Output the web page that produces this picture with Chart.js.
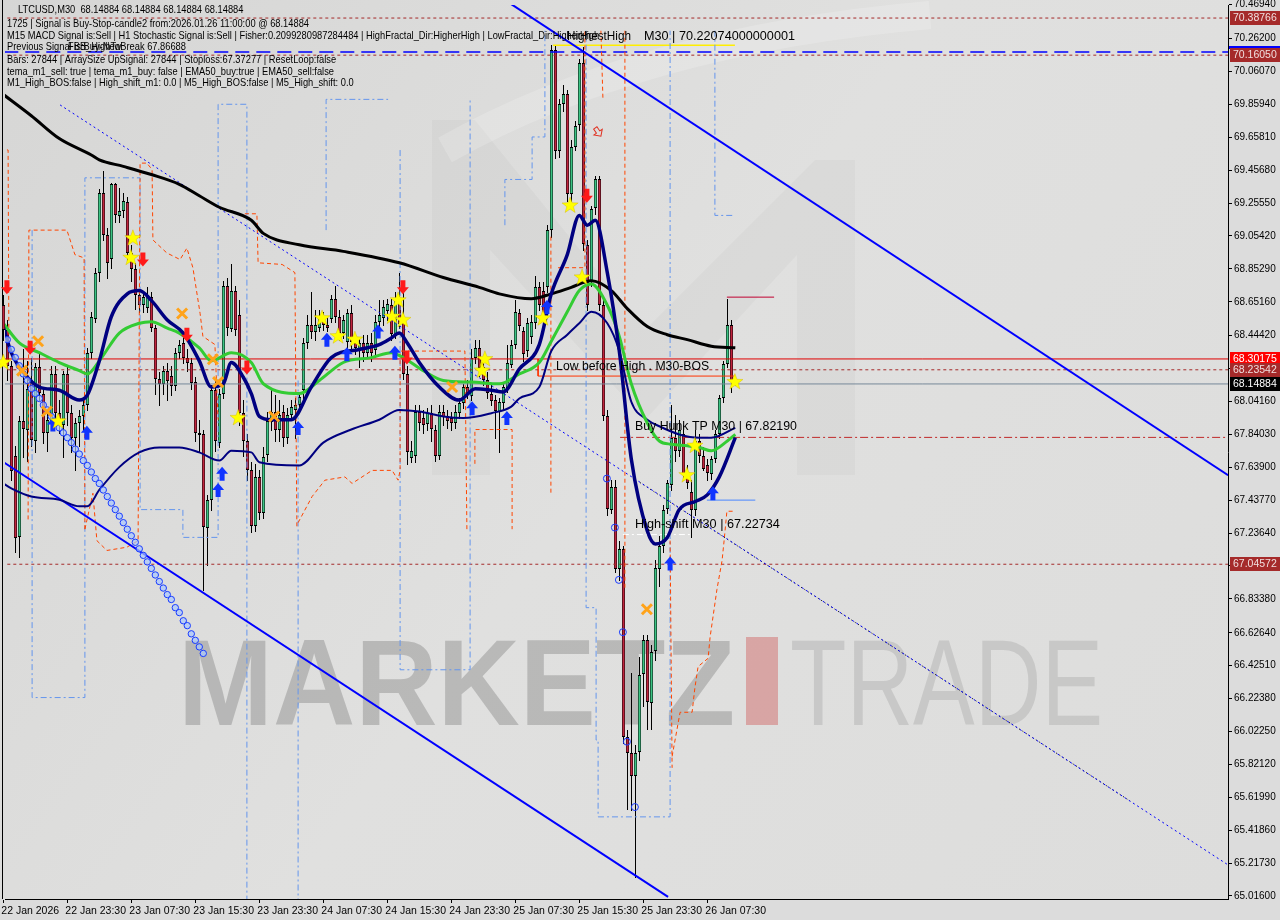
<!DOCTYPE html>
<html>
<head>
<meta charset="utf-8">
<title>LTCUSD,M30</title>
<script src="https://cdn.jsdelivr.net/npm/chart.js@4.4.1/dist/chart.umd.min.js"></script>
<style>
  html, body { margin: 0; padding: 0; background: #dcdcdc; }
  #box { position: relative; width: 1280px; height: 920px; }
</style>
</head>
<body>
<div id="box"><canvas id="chart" width="1280" height="920"></canvas></div>
<script>
// ---- candles, M30 bars from 22 Jan 15:30 (bar 0) to 26 Jan 11:00 (bar 183)
const opens = [
  68.63,68.48,68.26,67.71,67.21,67.92,67.87,68.17,67.80,68.25,
  68.09,67.85,67.91,68.21,67.97,67.90,68.21,67.97,67.82,67.91,
  67.95,68.02,68.34,68.55,68.83,69.32,69.06,68.91,69.37,69.18,
  69.21,69.26,68.95,68.85,68.69,68.63,68.61,68.68,68.49,68.18,
  68.15,68.23,68.20,68.14,68.34,68.40,68.31,68.28,68.16,67.85,
  67.84,67.27,67.44,68.11,67.79,68.09,68.75,68.49,68.72,68.57,
  67.97,67.80,67.62,67.28,67.58,67.36,67.71,67.92,67.98,67.87,
  67.98,67.82,67.96,67.99,68.02,68.11,68.40,68.51,68.47,68.49,
  68.55,68.51,68.55,68.67,68.56,68.46,68.40,68.58,68.40,68.36,
  68.40,68.34,68.40,68.36,68.53,68.55,68.60,68.63,68.45,68.67,
  68.52,68.21,67.70,67.71,67.98,67.94,67.90,67.97,67.87,67.71,
  67.98,67.95,67.94,67.91,67.97,68.03,68.13,68.08,68.31,68.37,
  68.25,68.17,68.09,68.05,67.98,68.03,68.13,68.27,68.39,68.58,
  68.47,68.35,68.44,68.52,68.74,68.72,68.74,69.09,70.19,69.57,
  69.86,69.92,69.31,69.60,69.73,70.11,69.00,68.78,69.22,69.40,
  68.63,67.95,67.38,67.52,67.02,67.14,65.99,65.89,65.75,65.90,
  66.37,66.58,66.20,66.51,67.02,67.16,67.38,67.53,67.82,67.74,
  67.84,67.59,67.49,67.38,67.80,67.71,67.65,67.60,67.69,67.84,
  68.06,68.27,68.51,68.16
];
const highs = [
  68.69,68.54,68.29,67.77,67.95,68.36,68.29,68.31,68.28,68.33,
  68.12,67.99,68.26,68.26,68.05,68.23,68.25,68.02,67.94,67.99,
  68.05,68.37,68.59,68.86,69.34,69.45,69.10,69.38,69.38,69.35,
  69.32,69.29,69.00,68.89,68.72,68.72,68.74,68.71,68.51,68.22,
  68.26,68.28,68.26,68.37,68.42,68.45,68.36,68.31,68.19,67.93,
  67.87,67.47,68.14,68.17,68.12,68.78,68.80,68.88,68.75,68.66,
  68.05,67.84,67.67,67.66,67.62,67.76,67.98,68.11,68.08,68.05,
  68.02,68.00,68.05,68.06,68.10,68.43,68.57,68.71,68.60,68.60,
  68.59,68.55,68.69,68.75,68.60,68.57,68.61,68.63,68.45,68.43,
  68.45,68.45,68.46,68.57,68.66,68.66,68.67,68.67,68.71,68.83,
  68.75,68.26,67.80,68.02,68.02,67.99,68.00,68.02,67.90,68.02,
  68.02,67.99,67.98,68.02,68.06,68.15,68.17,68.36,68.42,68.42,
  68.29,68.22,68.14,68.08,68.06,68.15,68.39,68.42,68.66,68.61,
  68.50,68.55,68.57,68.81,68.77,68.77,69.12,70.22,70.22,69.89,
  69.98,69.95,69.64,69.76,70.14,70.21,69.03,69.24,69.42,69.42,
  68.66,67.99,67.56,67.56,67.19,67.16,66.03,66.38,65.94,66.48,
  66.61,66.61,66.55,67.07,67.22,67.41,67.56,68.02,67.96,67.93,
  67.90,67.65,67.56,67.87,67.84,67.76,67.69,67.71,67.87,68.08,
  68.29,68.67,68.54,68.17
];
const lows = [
  68.42,68.17,67.56,67.12,67.09,67.70,67.68,67.77,67.73,68.05,
  67.79,67.74,67.87,67.93,67.85,67.70,67.90,67.73,67.62,67.77,
  67.87,67.99,68.31,68.53,68.78,69.03,68.80,68.86,69.14,69.14,
  69.17,68.91,68.78,68.61,68.59,68.59,68.59,68.47,68.09,68.02,
  68.09,68.05,68.08,68.11,68.31,68.28,68.23,68.12,67.80,67.74,
  66.89,67.04,67.38,67.74,67.76,68.06,68.45,68.47,68.45,67.90,
  67.71,67.56,67.24,67.25,67.32,67.33,67.68,67.87,67.80,67.80,
  67.77,67.79,67.93,67.82,67.99,68.05,68.37,68.43,68.42,68.47,
  68.48,68.47,68.53,68.53,68.42,68.43,68.36,68.37,68.33,68.25,
  68.29,68.31,68.29,68.33,68.49,68.51,68.54,68.42,68.43,68.49,
  68.18,67.66,67.67,67.67,67.87,67.85,67.87,67.80,67.68,67.69,
  67.90,67.88,67.87,67.88,67.94,68.00,68.06,68.05,68.28,68.20,
  68.14,68.06,68.02,67.82,67.73,67.99,68.10,68.25,68.37,68.48,
  68.29,68.32,68.40,68.49,68.60,68.54,68.71,69.05,69.53,69.54,
  69.82,69.27,69.27,69.58,69.70,68.97,68.60,68.75,69.19,68.60,
  67.93,67.35,67.36,67.00,66.95,65.95,65.55,65.54,65.13,65.85,
  66.18,66.04,66.04,66.46,66.91,67.12,67.36,67.50,67.68,67.71,
  67.56,67.51,67.21,67.35,67.67,67.62,67.56,67.57,67.67,67.82,
  68.04,68.25,68.10,68.14
];
const closes = [
  68.48,68.26,67.62,67.21,67.92,67.87,68.12,67.80,68.25,68.09,
  67.85,67.93,68.21,67.97,67.90,68.21,67.97,67.82,67.91,67.95,
  68.02,68.34,68.56,68.83,69.32,69.06,68.89,69.37,69.18,69.21,
  69.27,68.95,68.85,68.69,68.63,68.68,68.69,68.49,68.18,68.15,
  68.23,68.17,68.14,68.34,68.39,68.31,68.28,68.16,67.85,67.84,
  67.27,67.44,68.11,67.80,68.09,68.75,68.49,68.72,68.48,67.97,
  67.80,67.62,67.28,67.58,67.36,67.70,67.92,67.98,67.87,67.96,
  67.82,67.96,68.01,68.02,68.07,68.40,68.51,68.47,68.51,68.55,
  68.51,68.49,68.67,68.56,68.46,68.54,68.58,68.40,68.37,68.40,
  68.34,68.40,68.34,68.53,68.57,68.62,68.64,68.45,68.67,68.52,
  68.21,67.73,67.74,67.98,67.91,67.90,67.97,67.87,67.71,67.98,
  67.95,67.92,67.91,67.98,68.03,68.13,68.08,68.31,68.37,68.25,
  68.17,68.09,68.05,67.98,68.04,68.13,68.28,68.39,68.59,68.50,
  68.33,68.52,68.53,68.74,68.63,68.56,69.09,70.19,69.57,69.86,
  69.92,69.31,69.60,69.73,70.11,69.00,68.63,69.22,69.40,68.63,
  67.95,67.38,67.52,67.02,67.14,65.99,65.89,65.75,65.89,66.37,
  66.58,66.20,66.51,67.02,67.16,67.38,67.54,67.82,67.74,67.87,
  67.59,67.54,67.38,67.80,67.71,67.63,67.60,67.69,67.84,68.06,
  68.27,68.51,68.16,68.14884
];

// ---- axes
const timeTickBars = [0, 16, 32, 48, 64, 80, 96, 112, 128, 144, 160, 176];
const timeTickLabels = ['22 Jan 2026', '22 Jan 23:30', '23 Jan 07:30', '23 Jan 15:30', '23 Jan 23:30',
  '24 Jan 07:30', '24 Jan 15:30', '24 Jan 23:30', '25 Jan 07:30', '25 Jan 15:30', '25 Jan 23:30', '26 Jan 07:30'];
const priceTicks = [70.4694, 70.2620, 70.0607, 69.8594, 69.6581, 69.4568, 69.2555, 69.0542, 68.8529, 68.6516,
  68.4442, 68.2429, 68.0416, 67.8403, 67.6390, 67.4377, 67.2364, 67.0351, 66.8338, 66.6264,
  66.4251, 66.2238, 66.0225, 65.8212, 65.6199, 65.4186, 65.2173, 65.0160];

// ---- indicator lines, read at sample bars
const slowBars = [0, 7, 14, 22, 24, 30, 37, 44, 49, 54, 62, 65, 74, 85, 99, 110, 119, 124, 132, 137, 142, 147, 152, 156, 161, 166, 171, 177, 183];
const slowVals = [69.92, 69.79, 69.65, 69.55, 69.52, 69.48, 69.43, 69.37, 69.30, 69.23, 69.15, 69.07, 69.00, 68.96, 68.89, 68.80, 68.74, 68.70, 68.67, 68.70, 68.74, 68.78, 68.72, 68.61, 68.50, 68.45, 68.42, 68.38, 68.37];
const greenBars = [0, 4, 9, 14, 19, 21, 24, 29, 34, 37, 41, 44, 49, 52, 57, 62, 65, 74, 79, 85, 92, 97, 100, 105, 110, 117, 124, 129, 134, 137, 141, 144, 147, 151, 154, 157, 161, 164, 167, 171, 174, 177, 181, 183];
const greenVals = [68.52, 68.40, 68.34, 68.28, 68.23, 68.21, 68.29, 68.46, 68.52, 68.53, 68.49, 68.46, 68.37, 68.29, 68.34, 68.28, 68.15, 68.09, 68.17, 68.28, 68.31, 68.34, 68.31, 68.23, 68.17, 68.16, 68.15, 68.21, 68.28, 68.41, 68.59, 68.72, 68.76, 68.63, 68.44, 68.15, 67.91, 67.80, 67.78, 67.77, 67.76, 67.74, 67.80, 67.84];
const fastBars = [0, 2, 6, 9, 14, 19, 21, 24, 27, 31, 34, 37, 41, 45, 49, 52, 55, 57, 60, 62, 64, 67, 72, 77, 82, 89, 94, 97, 99, 101, 104, 109, 114, 118, 122, 125, 129, 134, 137, 141, 144, 146, 148, 151, 154, 157, 161, 163, 166, 169, 173, 176, 179, 183];
const fastVals = [68.50, 68.34, 68.19, 68.13, 68.11, 68.05, 68.08, 68.29, 68.56, 68.70, 68.72, 68.66, 68.54, 68.46, 68.29, 68.13, 68.15, 68.28, 68.19, 68.09, 67.95, 67.93, 67.93, 68.13, 68.31, 68.36, 68.39, 68.43, 68.46, 68.40, 68.28, 68.13, 68.05, 68.12, 68.11, 68.10, 68.24, 68.39, 68.70, 68.94, 69.18, 69.12, 69.15, 68.83, 68.35, 67.69, 67.25, 67.17, 67.21, 67.38, 67.43, 67.47, 67.58, 67.82];
const bandBars = [0, 2, 7, 14, 19, 21, 24, 29, 34, 39, 44, 49, 54, 57, 62, 64, 74, 80, 87, 94, 99, 104, 110, 115, 122, 127, 129, 134, 137, 141, 144, 147, 151, 154, 157, 161, 164, 169, 174, 177, 183];
const bandVals = [67.54, 67.51, 67.46, 67.44, 67.40, 67.40, 67.50, 67.64, 67.73, 67.76, 67.76, 67.73, 67.68, 67.74, 67.73, 67.67, 67.65, 67.79, 67.87, 67.93, 67.99, 67.98, 67.95, 67.94, 67.97, 68.01, 68.06, 68.13, 68.35, 68.45, 68.52, 68.59, 68.52, 68.35, 68.04, 67.93, 67.89, 67.84, 67.82, 67.82, 67.88];

// trend lines: [bar, price] end points
const channelTop = [[125.4, 70.498], [306.2, 67.59]];
const channelBottom = [[-0.8, 67.684], [166.2, 65.01]];
const dottedTrend = [[14.2, 69.856], [306.2, 65.206]];
const dottedTrendBlack = [[159.2, 67.545], [281.7, 65.597]];

// orange step lines (dashed)
const orangeSegs = [
  [[-0.8, 69.59], [1.2, 69.58], [1.4, 68.39]],
  [[6.2, 67.32], [6.4, 69.09], [15.9, 69.09], [17.9, 68.94], [20.2, 68.92], [20.4, 67.26]],
  [[20.4, 67.26], [22.4, 67.48], [23.4, 67.19], [25.9, 67.13], [30.9, 67.15], [33.7, 67.19], [34.2, 69.50], [35.9, 69.50], [37.2, 69.46], [37.4, 69.03], [40.9, 68.95], [44.2, 68.91], [45.9, 68.98], [47.4, 68.86], [49.2, 68.58], [49.9, 68.44], [52.9, 68.39], [53.7, 67.93]],
  [[60.4, 69.19], [63.4, 69.19], [63.7, 68.89], [69.7, 68.88], [72.9, 68.83], [73.4, 67.26]],
  [[73.7, 67.30], [77.2, 67.46], [80.4, 67.56], [85.4, 67.58], [87.2, 67.54], [92.2, 67.62], [97.2, 67.62], [98.7, 67.56], [99.2, 67.62], [99.2, 68.35], [115.4, 68.35], [115.9, 67.26]],
  [[117.9, 67.66], [117.9, 67.87], [127.2, 67.87], [127.2, 67.26]],
  [[136.9, 69.05], [136.9, 67.48]],
  [[138.7, 68.86], [145.4, 68.86], [145.4, 70.31]],
  [[149.4, 70.31], [149.9, 69.90]],
  [[155.4, 70.31], [155.4, 66.89]],
  [[166.7, 67.19], [167.2, 65.80]],
  [[167.2, 65.87], [169.2, 66.14], [172.2, 66.14], [172.9, 66.29], [173.7, 66.42], [176.2, 66.47], [176.7, 66.60], [178.4, 66.89], [179.7, 67.07], [180.2, 67.19], [180.9, 67.37], [182.9, 67.37]]
];
// light blue step lines (dash-dot)
const channelSegs = [
  [[7.2, 69.09], [7.2, 66.23], [20.4, 66.23], [20.4, 69.41], [34.2, 69.41], [34.2, 67.38], [44.9, 67.38], [44.9, 67.21], [53.7, 67.21], [53.7, 69.86], [60.9, 69.86], [60.9, 64.99]],
  [[73.7, 68.17], [73.7, 64.99]],
  [[80.7, 69.09], [80.7, 69.89], [96.2, 69.89]],
  [[99.2, 69.58], [99.2, 66.40], [116.7, 66.40], [116.7, 69.89]],
  [[125.4, 69.12], [125.4, 69.40], [132.2, 69.40], [132.2, 69.66], [135.4, 69.66], [135.4, 70.31]],
  [[145.7, 70.31], [145.7, 66.78], [148.2, 66.78], [148.2, 65.97], [148.7, 65.97], [148.7, 65.50], [166.7, 65.50], [166.7, 70.31]],
  [[177.9, 70.31], [177.9, 69.18], [182.9, 69.18]]
];

// ---- signal marks
const chainStartBar = 1;
const chainPrices = [68.42, 68.36, 68.31, 68.26, 68.21, 68.17, 68.12, 68.09, 68.06, 68.02, 67.99, 67.95, 67.92, 67.88, 67.85, 67.82, 67.79, 67.75, 67.72, 67.68,
  67.65, 67.61, 67.57, 67.54, 67.50, 67.46, 67.42, 67.38, 67.34, 67.30, 67.26, 67.22, 67.18, 67.14, 67.10, 67.06, 67.02, 66.98, 66.94, 66.90,
  66.86, 66.83, 66.78, 66.75, 66.70, 66.67, 66.62, 66.58, 66.54, 66.50];
const ringBars = [150.9, 152.9, 153.9, 154.9, 155.9, 157.9];
const ringPrices = [67.57, 67.27, 66.95, 66.63, 65.96, 65.56];
const starBars = [0, 13.7, 32.4, 31.9, 58.7, 79.7, 83.7, 87.9, 97.2, 98.7, 99.9, 120.4, 119.7, 134.9, 141.7, 144.7, 170.9, 172.9, 182.9];
const starPrices = [68.28, 67.92, 69.04, 68.92, 67.94, 68.55, 68.44, 68.42, 68.56, 68.66, 68.54, 68.30, 68.23, 68.55, 69.24, 68.80, 67.59, 67.77, 68.16];
const crossBars = [8.7, 4.7, 10.9, 44.7, 52.4, 53.7, 67.7, 112.2, 160.9];
const crossPrices = [68.41, 68.23, 67.98, 68.58, 68.30, 68.16, 67.95, 68.13, 66.77];
const sellBars = [0.9, 6.7, 34.9, 45.9, 60.9, 99.9, 100.9, 145.9];
const sellPrices = [68.74, 68.37, 68.91, 68.45, 68.25, 68.74, 68.31, 69.30];
const buyBars = [12.4, 20.9, 53.7, 54.7, 73.7, 80.9, 85.9, 93.7, 97.9, 117.2, 125.9, 135.9, 166.7, 177.4];
const buyPrices = [67.90, 67.85, 67.50, 67.60, 67.88, 68.42, 68.33, 68.47, 68.34, 68.00, 67.94, 68.62, 67.05, 67.48];

// ---- price levels
const levelFullDashed = [70.38766, 70.16050, 68.23542, 67.04572];
const levelBlueDash = 70.18;
const levelRed = 68.30175;
const levelBid = 68.14884;
const levelTP = 67.82190;
const levelHighShift = 67.22734;
const levelHighest = 70.22074;
const levelBOS = 68.197;
const levelHighCap = 68.68;
const levelBuyShort = 67.438;
const axisBoxes = [
  [70.38766, '#a52a2a', '#f0dede'], [70.16050, '#a52a2a', '#f0dede'], [68.30175, '#ff0000', '#ffffff'],
  [68.23542, '#a52a2a', '#f0dede'], [68.14884, '#000000', '#ffffff'], [67.04572, '#a52a2a', '#f0dede']
];

const infoLines = [
  [18, 10, 'LTCUSD,M30  68.14884 68.14884 68.14884 68.14884'],
  [7, 24, '1725 | Signal is Buy-Stop-candle2 from:2026.01.26 11:00:00 @ 68.14884'],
  [7, 36, 'M15 MACD Signal is:Sell | H1 Stochastic Signal is:Sell | Fisher:0.2099280987284484 | HighFractal_Dir:HigherHigh | LowFractal_Dir:HigherHigh'],
  [7, 47, 'Previous Signal is:Buy-New'],
  [68, 47, 'FBB_HighToBreak 67.86688'],
  [7, 60, 'Bars: 27844 | ArraySize UpSignal: 27844 | Stoploss:67.37277 | ResetLoop:false'],
  [7, 72, 'tema_m1_sell: true | tema_m1_buy: false | EMA50_buy:true | EMA50_sell:false'],
  [7, 83, 'M1_High_BOS:false | High_shift_m1: 0.0 | M5_High_BOS:false | M5_High_shift: 0.0']
];

// screen calibration of the MT4 window
const bar0Px = 3.3, pxPerBar = 4;
const priceAtTop = 70.498, pricePerPx = 0.0061185;

const FONT = '"Liberation Sans", Arial, sans-serif';
const xMin = -0.825, xMax = 306.175;
const yMin = 64.998, yMax = 70.498;

function pairs(bars, vals) { return bars.map((b, i) => ({ x: b, y: vals[i] })); }
function seg(points) { return points.map(p => ({ x: p[0], y: p[1] })); }
function lineSet(data, color, width, dash, order, extra) {
  return Object.assign({
    data: data, borderColor: color, borderWidth: width, borderDash: dash || [],
    pointRadius: 0, fill: false, tension: 0, order: order, showLine: true
  }, extra || {});
}

const datasets = [];
const smooth = { cubicInterpolationMode: 'monotone' };
datasets.push(lineSet(pairs(fastBars, fastVals), '#000080', 3.5, [], 1, smooth));
datasets.push(lineSet(pairs(greenBars, greenVals), '#33cc33', 3, [], 2, smooth));
datasets.push(lineSet(pairs(bandBars, bandVals), '#000080', 2, [], 3, smooth));
datasets.push(lineSet(pairs(slowBars, slowVals), '#000000', 3, [], 4, smooth));
datasets.push(lineSet(seg(channelTop), '#0000ff', 2, [], 5));
datasets.push(lineSet(seg(channelBottom), '#0000ff', 2, [], 5));
datasets.push(lineSet(seg(dottedTrend), '#0000ff', 1, [2, 3], 6));
datasets.push(lineSet(seg(dottedTrendBlack), '#000000', 1, [1, 3], 6));
orangeSegs.forEach(s => datasets.push(lineSet(seg(s), '#ff4500', 1, [4, 3], 7)));
channelSegs.forEach(s => datasets.push(lineSet(seg(s), '#6495ed', 1, [6, 3, 2, 3], 7)));
const full = v => [{ x: -5, y: v }, { x: 320, y: v }];
levelFullDashed.forEach(v => datasets.push(lineSet(full(v), '#a52a2a', 1, [3, 3], 8)));
datasets.push(lineSet(full(levelBlueDash), '#0000ff', 1.5, [14, 7], 8));
datasets.push(lineSet(full(levelRed), '#e00000', 1, [], 8));
datasets.push(lineSet(full(levelBid), '#778899', 1, [], 8));
datasets.push(lineSet([{ x: 154.2, y: levelTP }, { x: 320, y: levelTP }], '#c02828', 1, [8, 3, 2, 3], 8));
datasets.push(lineSet([{ x: 154.9, y: levelHighShift }, { x: 172.4, y: levelHighShift }], '#ffffff', 1, [6, 3, 2, 3], 8));
datasets.push(lineSet([{ x: 137.4, y: levelHighest }, { x: 182.9, y: levelHighest }], '#ffee00', 1.5, [], 8));
datasets.push(lineSet([{ x: 133.7, y: levelRed }, { x: 133.7, y: levelBOS }, { x: 182.9, y: levelBOS }], '#ff3300', 1, [], 8));
datasets.push(lineSet([{ x: 180.9, y: levelHighCap }, { x: 192.7, y: levelHighCap }], '#c00030', 1, [], 8));
datasets.push(lineSet([{ x: 175.9, y: levelBuyShort }, { x: 188, y: levelBuyShort }], '#4a86ff', 1, [], 8));
datasets.push({
  data: chainPrices.map((p, i) => ({ x: chainStartBar + i, y: p })),
  showLine: false, pointRadius: 3.2, pointStyle: 'circle', pointBorderWidth: 1,
  pointBorderColor: '#1a3cff', pointBackgroundColor: 'rgba(170,200,255,0.7)', order: 0
});

function drawStar(ctx, cx, cy) {
  ctx.beginPath();
  for (let k = 0; k < 10; k++) {
    const r = k % 2 ? 3.5 : 8.5;
    const a = -Math.PI / 2 + k * Math.PI / 5;
    const px = cx + r * Math.cos(a), py = cy + r * Math.sin(a);
    if (k === 0) ctx.moveTo(px, py); else ctx.lineTo(px, py);
  }
  ctx.closePath();
  ctx.fillStyle = '#ffff00';
  ctx.fill();
  ctx.strokeStyle = 'rgba(210,180,0,0.7)';
  ctx.lineWidth = 0.6;
  ctx.stroke();
}
function drawCross(ctx, cx, cy) {
  ctx.strokeStyle = '#ffa31a';
  ctx.lineWidth = 3;
  ctx.beginPath();
  ctx.moveTo(cx - 5, cy - 5); ctx.lineTo(cx + 5, cy + 5);
  ctx.moveTo(cx + 5, cy - 5); ctx.lineTo(cx - 5, cy + 5);
  ctx.stroke();
}
function drawArrow(ctx, cx, cy, dir, color) {
  ctx.beginPath();
  ctx.moveTo(cx - 2.5, cy - 7 * dir);
  ctx.lineTo(cx + 2.5, cy - 7 * dir);
  ctx.lineTo(cx + 2.5, cy);
  ctx.lineTo(cx + 6, cy);
  ctx.lineTo(cx, cy + 7 * dir);
  ctx.lineTo(cx - 6, cy);
  ctx.lineTo(cx - 2.5, cy);
  ctx.closePath();
  ctx.fillStyle = color;
  ctx.fill();
}
function fitText(ctx, text, x, y, width) {
  const w = ctx.measureText(text).width;
  const s = width && w > 0 ? width / w : 1;
  ctx.save();
  ctx.setTransform(s, 0, 0, 1, x, y);
  ctx.fillText(text, 0, 0);
  ctx.restore();
}

const backdrop = {
  id: 'backdrop',
  beforeDraw(chart) {
    const { ctx, chartArea: a } = chart;
    ctx.save();
    ctx.fillStyle = '#dcdcdc';
    ctx.fillRect(0, 0, chart.width, chart.height);
    const g = ctx.createLinearGradient(0, 0, a.right, a.bottom);
    g.addColorStop(0, '#d6d6d5');
    g.addColorStop(0.5, '#e0e0df');
    g.addColorStop(1, '#dddddc');
    ctx.fillStyle = g;
    ctx.fillRect(0, 0, a.right, a.bottom);
    ctx.restore();
  },
  beforeDatasetsDraw(chart) {
    const { ctx, chartArea: a, scales: { x, y } } = chart;
    ctx.save();
    ctx.beginPath();
    ctx.rect(0, 0, a.right, a.bottom);
    ctx.clip();
    // logo watermark
    ctx.fillStyle = 'rgba(0,0,0,0.025)';
    ctx.beginPath();
    ctx.moveTo(432, 475); ctx.lineTo(432, 120); ctx.lineTo(475, 120); ctx.lineTo(645, 330);
    ctx.lineTo(815, 160); ctx.lineTo(855, 160); ctx.lineTo(855, 475); ctx.lineTo(797, 475);
    ctx.lineTo(797, 255); ctx.lineTo(645, 420); ctx.lineTo(490, 250); ctx.lineTo(490, 475);
    ctx.closePath();
    ctx.fill();
    ctx.strokeStyle = 'rgba(255,255,255,0.18)';
    ctx.lineWidth = 28;
    ctx.beginPath();
    ctx.moveTo(445, 150); ctx.quadraticCurveTo(640, 40, 930, 15);
    ctx.stroke();
    // text watermark
    ctx.textBaseline = 'alphabetic';
    ctx.font = 'bold 123px ' + FONT;
    ctx.fillStyle = 'rgba(120,120,120,0.38)';
    fitText(ctx, 'MARKETZ', 178, 725, 557);
    ctx.fillStyle = 'rgba(205,70,70,0.38)';
    ctx.fillRect(746, 637, 32, 88);
    ctx.font = '123px ' + FONT;
    ctx.fillStyle = 'rgba(150,150,150,0.30)';
    fitText(ctx, 'TRADE', 790, 725, 313);
    // left frame
    ctx.fillStyle = '#000';
    ctx.fillRect(2, 0, 1, a.bottom);
    // candles
    for (let i = 0; i < opens.length; i++) {
      const cx = Math.round(x.getPixelForValue(i));
      const yo = y.getPixelForValue(opens[i]), yc = y.getPixelForValue(closes[i]);
      const yh = Math.round(y.getPixelForValue(highs[i])), yl = Math.round(y.getPixelForValue(lows[i]));
      ctx.fillStyle = '#000';
      ctx.fillRect(cx, yh, 1, yl - yh + 1);
      const top = Math.round(Math.min(yo, yc));
      const h = Math.max(2, Math.round(Math.abs(yc - yo)));
      ctx.fillRect(cx - 1, top, 3, h);
      ctx.fillStyle = closes[i] >= opens[i] ? '#3cc383' : '#c0243e';
      if (h > 2) ctx.fillRect(cx - 0.5, top + 1, 2, h - 2);
    }
    ctx.restore();
  },
  afterDatasetsDraw(chart) {
    const { ctx, chartArea: a, scales: { x, y } } = chart;
    ctx.save();
    ctx.beginPath();
    ctx.rect(0, 0, a.right, a.bottom);
    ctx.clip();
    crossBars.forEach((b, i) => drawCross(ctx, x.getPixelForValue(b), y.getPixelForValue(crossPrices[i])));
    sellBars.forEach((b, i) => drawArrow(ctx, x.getPixelForValue(b), y.getPixelForValue(sellPrices[i]), 1, '#ff1a1a'));
    buyBars.forEach((b, i) => drawArrow(ctx, x.getPixelForValue(b), y.getPixelForValue(buyPrices[i]), -1, '#1034ff'));
    ringBars.forEach((b, i) => {
      ctx.beginPath();
      ctx.arc(x.getPixelForValue(b), y.getPixelForValue(ringPrices[i]), 3.5, 0, Math.PI * 2);
      ctx.strokeStyle = '#1a3cff'; ctx.lineWidth = 1; ctx.stroke();
    });
    // hollow sell arrow
    ctx.save();
    ctx.translate(x.getPixelForValue(148.7), y.getPixelForValue(69.69));
    ctx.rotate(-0.6);
    ctx.beginPath();
    ctx.moveTo(-2, -5); ctx.lineTo(2, -5); ctx.lineTo(2, 0); ctx.lineTo(5, 0); ctx.lineTo(0, 5); ctx.lineTo(-5, 0); ctx.lineTo(-2, 0); ctx.closePath();
    ctx.strokeStyle = '#e03020'; ctx.lineWidth = 1; ctx.stroke();
    ctx.restore();
    starBars.forEach((b, i) => drawStar(ctx, x.getPixelForValue(b), y.getPixelForValue(starPrices[i])));

    // object labels
    ctx.fillStyle = '#000';
    ctx.textBaseline = 'middle';
    ctx.font = '12px ' + FONT;
    fitText(ctx, 'Low before High . M30-BOS', x.getPixelForValue(138.2), y.getPixelForValue(68.255), 153);
    fitText(ctx, 'Buy Hunk TP M30 | 67.82190', x.getPixelForValue(157.9), y.getPixelForValue(67.885), 162);
    fitText(ctx, 'High-shift M30 | 67.22734', x.getPixelForValue(157.9), y.getPixelForValue(67.286), 145);
    ctx.restore();

    // info block
    ctx.save();
    ctx.textBaseline = 'middle';
    ctx.fillStyle = '#000';
    ctx.font = '11px ' + FONT;
    const sx = 302 / ctx.measureText(infoLines[1][2]).width;
    infoLines.forEach(l => {
      ctx.setTransform(sx, 0, 0, 1, l[0], l[1]);
      ctx.fillText(l[2], 0, 0);
    });
    ctx.setTransform(1, 0, 0, 1, 0, 0);
    ctx.font = '13px ' + FONT;
    fitText(ctx, 'HighestHigh', 567, 36, 64);
    fitText(ctx, 'M30 | 70.22074000000001', 644, 36, 151);
    ctx.restore();
  },
  afterDraw(chart) {
    const { ctx, chartArea: a, scales: { y } } = chart;
    ctx.save();
    ctx.font = '10.5px ' + FONT;
    ctx.textBaseline = 'middle';
    const py = y.getPixelForValue(70.21);
    ctx.fillStyle = '#0000ff';
    ctx.fillRect(a.right + 1, Math.round(py) - 1, chart.width - a.right, 3);
    axisBoxes.forEach(b => {
      const cy = Math.round(y.getPixelForValue(b[0]));
      ctx.fillStyle = b[1];
      ctx.fillRect(a.right + 2, cy - 7, chart.width - a.right - 2, 14);
      ctx.fillStyle = b[2];
      ctx.fillText(b[0].toFixed(5), a.right + 5, cy + 0.5);
    });
    ctx.restore();
  }
};

const chart = new Chart(document.getElementById('chart'), {
  type: 'line',
  data: { datasets: datasets },
  plugins: [backdrop],
  options: {
    responsive: false,
    devicePixelRatio: 1,
    animation: false,
    parsing: false,
    normalized: true,
    layout: { padding: 0 },
    plugins: { legend: { display: false }, tooltip: { enabled: false } },
    scales: {
      x: {
        type: 'linear', min: xMin, max: xMax, position: 'bottom',
        afterBuildTicks: ax => { ax.ticks = timeTickBars.map(v => ({ value: v })); },
        afterFit: ax => { ax.height = 21; ax.paddingLeft = 0; ax.paddingRight = 0; },
        ticks: {
          autoSkip: false, maxRotation: 0, minRotation: 0, align: 'start', padding: 2, labelOffset: -2,
          color: '#000', font: { family: FONT, size: 10.5 },
          callback: v => { const k = timeTickBars.indexOf(v); return k >= 0 ? timeTickLabels[k] : ''; }
        },
        grid: { drawOnChartArea: false, drawTicks: true, tickLength: 4, color: '#000' },
        border: { display: true, color: '#000', width: 1 }
      },
      y: {
        type: 'linear', min: yMin, max: yMax, position: 'right',
        afterBuildTicks: ax => { ax.ticks = priceTicks.map(v => ({ value: v })); },
        afterFit: ax => { ax.width = 52; ax.paddingTop = 0; ax.paddingBottom = 0; },
        ticks: {
          autoSkip: false, padding: 2, color: '#000', font: { family: FONT, size: 10 },
          callback: v => Number(v).toFixed(5)
        },
        grid: { drawOnChartArea: false, drawTicks: true, tickLength: 4, color: '#000' },
        border: { display: true, color: '#000', width: 1 }
      }
    }
  }
});

// match the MT4 window scale (4 px per bar, fixed price per pixel) to the laid-out chart area
const area = chart.chartArea;
chart.options.scales.x.min = (area.left - bar0Px) / pxPerBar;
chart.options.scales.x.max = (area.right - bar0Px) / pxPerBar;
chart.options.scales.y.max = priceAtTop - pricePerPx * area.top;
chart.options.scales.y.min = priceAtTop - pricePerPx * area.bottom;
chart.update();
</script>
</body>
</html>
